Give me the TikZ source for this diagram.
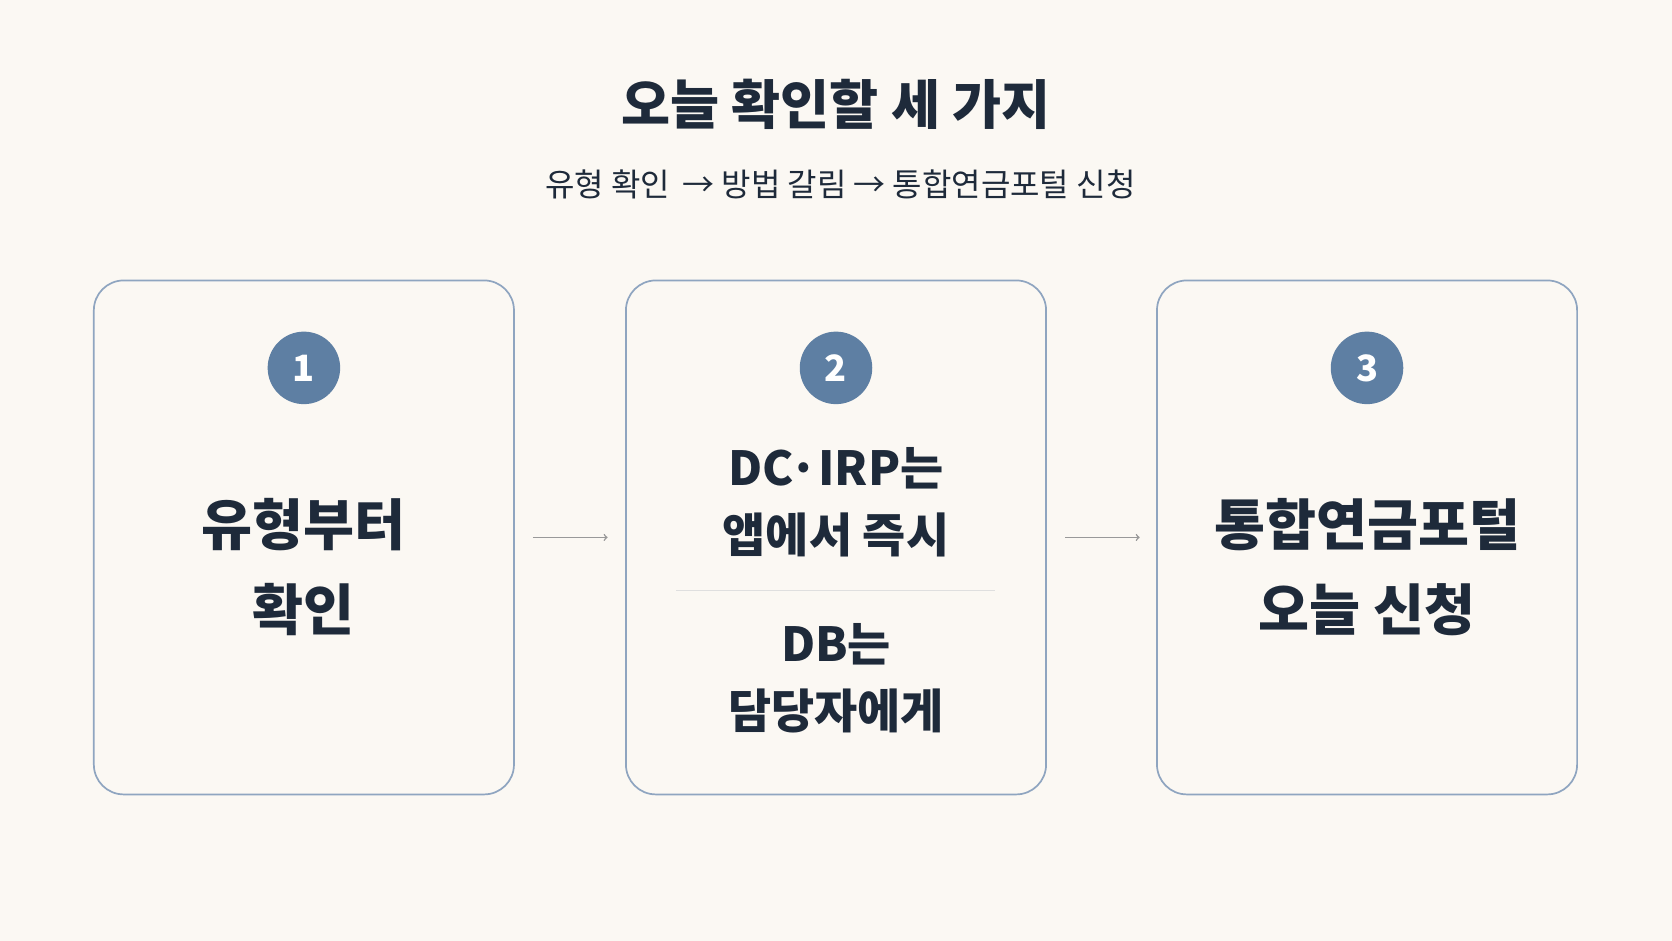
\documentclass[tikz,border=0pt]{standalone}
\usepackage{fontspec}
\setmainfont{Noto Sans CJK KR}
\usetikzlibrary{positioning}
\definecolor{bgCol}{HTML}{FBF8F3}
\definecolor{frameCol}{HTML}{8FA5C0}
\definecolor{badgeCol}{HTML}{5E7FA3}
\definecolor{inkCol}{HTML}{1E2A3A}
\tikzset{
	stepBox/.style={draw=frameCol, line width=1.6pt, rounded corners=28pt, minimum width=394pt, minimum height=482pt, fill=bgCol},
	badge/.style={circle, fill=badgeCol, minimum size=68pt, inner sep=0pt, text=white, font=\fontsize{34}{34}\selectfont\bfseries},
	bigText/.style={text=inkCol, align=center, font=\fontsize{52}{80}\selectfont\bfseries},
	midText/.style={text=inkCol, align=center, font=\fontsize{44}{63}\selectfont\bfseries},
	stepArrow/.style={->, draw=gray!80, line width=1.4pt},
}
\begin{document}
\begin{tikzpicture}[x=1pt,y=-1pt]
	\fill[bgCol] (0,0) rectangle (1568,882);
	\useasboundingbox (0,0) rectangle (1568,882);

	\node[text=inkCol, font=\fontsize{50}{50}\selectfont\bfseries] (title) at (784,98) {오늘 확인할 세 가지};
	\node[text=inkCol, font=\fontsize{30}{30}\selectfont] (sub) at (788,173) {유형 확인 \,→ 방법 갈림 → 통합연금포털 신청};

	\node[stepBox] (b1) at (285,504) {};
	\node[stepBox] (b2) at (784,504) {};
	\node[stepBox] (b3) at (1282,504) {};

	\node[badge] (n1) at (285,345) {1};
	\node[badge] (n2) at (784,345) {2};
	\node[badge] (n3) at (1282,345) {3};

	\node[bigText] (t1) at (285,532) {유형부터\\확인};
	\node[midText] (t2a) at (784,471) {DC·IRP는\\앱에서 즉시};
	\node[midText] (t2b) at (784,636) {DB는\\담당자에게};
	\node[bigText] (t3) at (1282,532) {통합연금포털\\오늘 신청};

	\coordinate (sepL) at (634,554);
	\coordinate (sepR) at (933,554);
	\draw[gray!25, line width=1pt] (sepL) -- (sepR);

	\draw[stepArrow] (b1.east) ++(17,0) coordinate (a1) -- ++(70,0);
	\draw[stepArrow] (b2.east) ++(17,0) coordinate (a2) -- ++(70,0);
\end{tikzpicture}
\end{document}
